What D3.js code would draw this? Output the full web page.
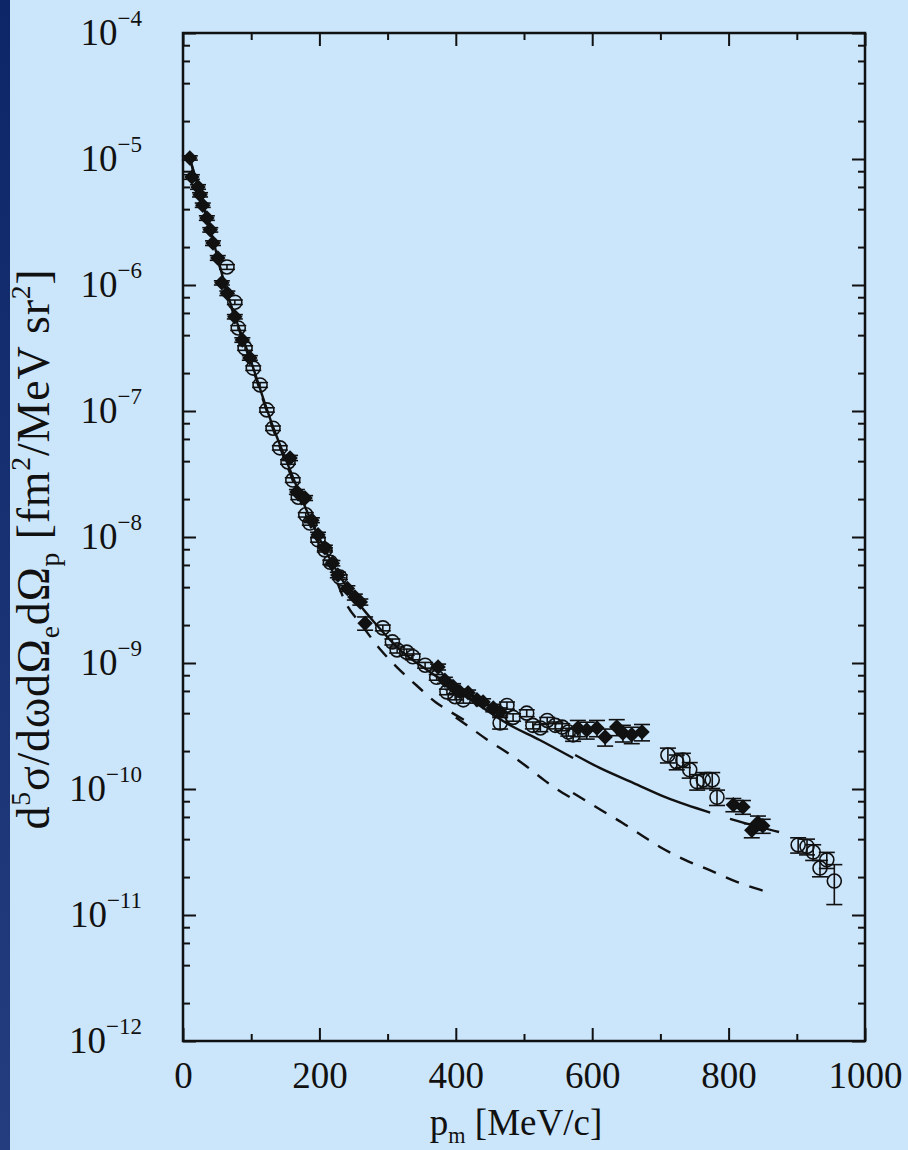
<!DOCTYPE html>
<html>
<head>
<meta charset="utf-8">
<script src="https://cdn.jsdelivr.net/npm/d3@7"></script>
<style>
  html, body { margin: 0; padding: 0; background: #cbe5fb; }
  svg { display: block; }
  text { font-family: "Liberation Serif", "Times New Roman", serif; fill: #111; }
</style>
</head>
<body>
<svg id="chart" width="908" height="1150"></svg>
<script>
// Missing-momentum distribution: data sets, calculations and axis ticks.
const xMajorTicks = [0, 200, 400, 600, 800, 1000];
const xMinorTicks = [100, 300, 500, 700, 900];
const yDecades = [1e-4, 1e-5, 1e-6, 1e-7, 1e-8, 1e-9, 1e-10, 1e-11, 1e-12];
const yDecadeExponents = ["−4", "−5", "−6", "−7", "−8", "−9", "−10", "−11", "−12"];
const yMinorMantissas = [2, 4, 6, 8];

// Filled diamonds: [p_m (MeV/c), cross section, error]
const diamondPts = [
  [10, 1.02e-5, 0.04e-5], [13, 7.2e-6, 0.3e-6], [22, 6.0e-6, 0.25e-6], [25, 5.2e-6, 0.2e-6],
  [29, 4.3e-6, 0.17e-6], [35, 3.4e-6, 0.14e-6], [40, 2.74e-6, 0.11e-6], [44, 2.15e-6, 0.09e-6],
  [51, 1.64e-6, 0.07e-6], [57, 1.04e-6, 0.04e-6], [65, 8.6e-7, 0.35e-7], [76, 5.6e-7, 0.22e-7],
  [87, 3.66e-7, 0.15e-7], [98, 2.64e-7, 0.11e-7], [157, 4.24e-8, 0.2e-8], [167, 2.28e-8, 0.1e-8],
  [179, 2.04e-8, 0.09e-8], [189, 1.36e-8, 0.06e-8], [198, 1.04e-8, 0.05e-8], [208, 8.2e-9, 0.4e-9],
  [219, 6.2e-9, 0.3e-9], [227, 5.0e-9, 0.25e-9], [241, 3.9e-9, 0.2e-9], [252, 3.34e-9, 0.18e-9],
  [260, 3.05e-9, 0.17e-9], [267, 2.07e-9, 0.25e-9], [374, 9.3e-10, 0.5e-10], [384, 7.3e-10, 0.4e-10],
  [396, 6.5e-10, 0.35e-10], [406, 5.9e-10, 0.3e-10], [418, 5.8e-10, 0.3e-10], [431, 5.1e-10, 0.3e-10],
  [440, 4.9e-10, 0.3e-10], [455, 4.4e-10, 0.3e-10], [465, 4.1e-10, 0.3e-10], [579, 3.05e-10, 0.45e-10],
  [592, 2.94e-10, 0.45e-10], [607, 3.05e-10, 0.45e-10], [619, 2.59e-10, 0.4e-10], [636, 3.1e-10, 0.45e-10],
  [645, 2.78e-10, 0.42e-10], [658, 2.69e-10, 0.4e-10], [673, 2.83e-10, 0.42e-10], [807, 7.5e-11, 0.9e-11],
  [821, 7.2e-11, 0.9e-11], [834, 4.7e-11, 0.6e-11], [843, 5.4e-11, 0.7e-11], [850, 5.1e-11, 0.65e-11]
];

// Open circles: [p_m (MeV/c), cross section, error]
const circlePts = [
  [64.5, 1.39e-6, 0.06e-6], [76, 7.3e-7, 0.3e-7], [81, 4.56e-7, 0.2e-7], [91, 3.16e-7, 0.13e-7],
  [103, 2.19e-7, 0.09e-7], [113, 1.61e-7, 0.07e-7], [123, 1.02e-7, 0.04e-7], [132, 7.3e-8, 0.3e-8],
  [142, 5.1e-8, 0.2e-8], [154, 3.94e-8, 0.16e-8], [161, 2.83e-8, 0.12e-8], [169, 2.07e-8, 0.09e-8],
  [180, 1.5e-8, 0.06e-8], [186, 1.29e-8, 0.05e-8], [198, 9.5e-9, 0.4e-9], [208, 7.9e-9, 0.3e-9],
  [216, 6.3e-9, 0.25e-9], [230, 4.8e-9, 0.2e-9], [293, 1.9e-9, 0.1e-9], [307, 1.47e-9, 0.08e-9],
  [314, 1.27e-9, 0.07e-9], [328, 1.22e-9, 0.07e-9], [337, 1.12e-9, 0.06e-9], [355, 9.6e-10, 0.5e-10],
  [372, 7.7e-10, 0.4e-10], [387, 5.9e-10, 0.3e-10], [399, 5.4e-10, 0.3e-10], [411, 5.1e-10, 0.3e-10],
  [465, 3.34e-10, 0.35e-10], [475, 4.6e-10, 0.3e-10], [484, 3.7e-10, 0.25e-10], [504, 4.0e-10, 0.25e-10],
  [513, 3.2e-10, 0.2e-10], [524, 3.05e-10, 0.2e-10], [534, 3.5e-10, 0.2e-10], [546, 3.2e-10, 0.2e-10],
  [556, 3.1e-10, 0.2e-10], [565, 2.83e-10, 0.2e-10], [572, 2.69e-10, 0.3e-10], [711, 1.86e-10, 0.25e-10],
  [724, 1.64e-10, 0.22e-10], [733, 1.7e-10, 0.22e-10], [743, 1.42e-10, 0.2e-10], [754, 1.14e-10, 0.16e-10],
  [763, 1.18e-10, 0.17e-10], [776, 1.18e-10, 0.17e-10], [783, 8.6e-11, 1.2e-11], [902, 3.6e-11, 0.5e-11],
  [915, 3.5e-11, 0.5e-11], [924, 3.16e-11, 0.45e-11], [934, 2.36e-11, 0.35e-11], [944, 2.74e-11, 0.4e-11],
  [955, 1.86e-11, 0.65e-11]
];

// Full calculation (solid), computed in three kinematic pieces
const solidA = [
  [10, 1.02e-5], [40, 2.74e-6], [65, 8.6e-7], [98, 2.64e-7], [132, 7.5e-8], [157, 3.4e-8],
  [186, 1.42e-8], [216, 6.6e-9], [245, 3.66e-9], [284, 2.0e-9], [318, 1.27e-9], [362, 8.5e-10],
  [406, 5.9e-10], [479, 3.22e-10], [523, 2.45e-10], [572, 1.76e-10]
];
const solidB = [[575, 1.86e-10], [611, 1.47e-10], [660, 1.12e-10], [710, 8.5e-11], [773, 6.5e-11]];
const solidC = [[802, 5.8e-11], [839, 5.1e-11], [874, 4.56e-11]];

// Reduced calculation (dashed), three pieces
const dashedA = [
  [10, 1.0e-5], [40, 2.7e-6], [65, 8.4e-7], [98, 2.55e-7], [132, 7.2e-8], [157, 3.2e-8],
  [186, 1.25e-8], [223, 4.8e-9], [238, 3.05e-9], [262, 2.0e-9], [290, 1.27e-9], [315, 9.1e-10],
  [343, 6.6e-10], [370, 4.9e-10], [392, 4.1e-10], [420, 3.35e-10]
];
const dashedB = [
  [400, 3.7e-10], [418, 3.16e-10], [449, 2.4e-10], [474, 1.97e-10], [501, 1.55e-10],
  [531, 1.16e-10], [562, 8.95e-11], [571, 8.4e-11]
];
const dashedC = [
  [572, 9.3e-11], [611, 6.9e-11], [644, 5.4e-11], [674, 4.24e-11], [702, 3.4e-11],
  [736, 2.74e-11], [768, 2.32e-11], [812, 1.83e-11], [847, 1.58e-11], [862, 1.5e-11]
];

const W = 908, H = 1150;
const plot = { left: 183, right: 865, top: 33, bottom: 1041 };
const bg = "#cbe5fb";
const tickFont = 37;

const svg = d3.select("#chart");

// background and dark edge band
const defs = svg.append("defs");
const grad = defs.append("linearGradient").attr("id", "edge").attr("x1", 0).attr("y1", 0).attr("x2", 0).attr("y2", 1);
grad.append("stop").attr("offset", 0).attr("stop-color", "#0c2668");
grad.append("stop").attr("offset", 1).attr("stop-color", "#233d7e");
svg.append("rect").attr("width", W).attr("height", H).attr("fill", bg);
svg.append("rect").attr("width", 10).attr("height", H).attr("fill", "url(#edge)");

const x = d3.scaleLinear().domain([0, 1000]).range([plot.left, plot.right]);
const y = d3.scaleLog().domain([1e-12, 1e-4]).range([plot.bottom, plot.top]);

const yMinor = [];
yDecades.slice(1).forEach(dec => yMinorMantissas.forEach(m => yMinor.push(m * dec)));

function styleAxis(g) {
  g.select(".domain").remove();
  g.selectAll(".tick line").attr("stroke", "#111").attr("stroke-width", 2);
}

// bottom axis with labels
svg.append("g").attr("transform", `translate(0,${plot.bottom})`)
  .call(d3.axisBottom(x).tickValues(xMajorTicks).tickSize(-13).tickPadding(21).tickFormat(d3.format("d")))
  .call(styleAxis)
  .call(g => g.selectAll("text").attr("font-size", tickFont).attr("font-family", "Liberation Serif").attr("fill", "#111"));
svg.append("g").attr("transform", `translate(0,${plot.bottom})`)
  .call(d3.axisBottom(x).tickValues(xMinorTicks).tickSize(-7).tickFormat(""))
  .call(styleAxis);
// top axis
svg.append("g").attr("transform", `translate(0,${plot.top})`)
  .call(d3.axisTop(x).tickValues(xMajorTicks).tickSize(-13).tickFormat(""))
  .call(styleAxis);
svg.append("g").attr("transform", `translate(0,${plot.top})`)
  .call(d3.axisTop(x).tickValues(xMinorTicks).tickSize(-7).tickFormat(""))
  .call(styleAxis);

// left axis with power-of-ten labels
svg.append("g").attr("transform", `translate(${plot.left},0)`)
  .call(d3.axisLeft(y).tickValues(yDecades).tickSize(-13).tickPadding(41).tickFormat(""))
  .call(styleAxis)
  .call(g => g.selectAll(".tick text").each(function (d) {
    const t = d3.select(this).attr("font-size", tickFont).attr("font-family", "Liberation Serif").attr("fill", "#111");
    t.text(null);
    t.append("tspan").text("10");
    t.append("tspan").attr("font-size", 23).attr("dy", -19).text(yDecadeExponents[yDecades.indexOf(d)]);
  }));
svg.append("g").attr("transform", `translate(${plot.left},0)`)
  .call(d3.axisLeft(y).tickValues(yMinor).tickSize(-7).tickFormat(""))
  .call(styleAxis);
// right axis
svg.append("g").attr("transform", `translate(${plot.right},0)`)
  .call(d3.axisRight(y).tickValues(yDecades).tickSize(-13).tickFormat(""))
  .call(styleAxis);
svg.append("g").attr("transform", `translate(${plot.right},0)`)
  .call(d3.axisRight(y).tickValues(yMinor).tickSize(-7).tickFormat(""))
  .call(styleAxis);

// frame
svg.append("rect")
  .attr("x", plot.left).attr("y", plot.top)
  .attr("width", plot.right - plot.left).attr("height", plot.bottom - plot.top)
  .attr("fill", "none").attr("stroke", "#111").attr("stroke-width", 2.5);

// text with super/subscripts
function richText(sel, parts, size) {
  let shift = 0;
  parts.forEach(p => {
    const target = p[1] === "sup" ? -0.42 * size : p[1] === "sub" ? 0.22 * size : 0;
    sel.append("tspan")
      .attr("dy", target - shift)
      .attr("font-size", p[1] ? size * 0.6 : size)
      .text(p[0]);
    shift = target;
  });
}

const xTitle = svg.append("text").attr("x", 516).attr("y", 1135).attr("text-anchor", "middle");
richText(xTitle, [["p"], ["m", "sub"], [" [MeV/c]"]], 37);

const yTitle = svg.append("text").attr("text-anchor", "middle")
  .attr("letter-spacing", 0.8)
  .attr("transform", "translate(49,549) rotate(-90)");
richText(yTitle, [["d"], ["5", "sup"], ["σ/dωdΩ"], ["e", "sub"], ["dΩ"], ["p", "sub"],
  [" [fm"], ["2", "sup"], ["/MeV sr"], ["2", "sup"], ["]"]], 46);

// calculation curves
const line = d3.line().x(d => x(d[0])).y(d => y(d[1])).curve(d3.curveMonotoneX);
const curves = svg.append("g").attr("fill", "none").attr("stroke", "#111").attr("stroke-width", 2.4);
[dashedA, dashedB, dashedC].forEach(seg =>
  curves.append("path").attr("d", line(seg)).attr("stroke-dasharray", "14,11"));
[solidA, solidB, solidC].forEach(seg =>
  curves.append("path").attr("d", line(seg)));

// error bars
function errorBars(pts) {
  const g = svg.append("g").attr("stroke", "#111").attr("stroke-width", 1.6);
  pts.forEach(d => {
    const cx = x(d[0]), y0 = y(d[1] - d[2]), y1 = y(d[1] + d[2]);
    g.append("line").attr("x1", cx).attr("x2", cx).attr("y1", y0).attr("y2", y1);
    g.append("line").attr("x1", cx - 8).attr("x2", cx + 8).attr("y1", y0).attr("y2", y0);
    g.append("line").attr("x1", cx - 8).attr("x2", cx + 8).attr("y1", y1).attr("y2", y1);
  });
}
errorBars(circlePts);
errorBars(diamondPts);

// open circles
svg.append("g").selectAll("circle").data(circlePts).join("circle")
  .attr("cx", d => x(d[0])).attr("cy", d => y(d[1])).attr("r", 7)
  .attr("fill", "none").attr("stroke", "#111").attr("stroke-width", 1.6);

// filled diamonds
const diamond = d3.symbol(d3.symbolSquare, 120);
svg.append("g").selectAll("path").data(diamondPts).join("path")
  .attr("d", diamond)
  .attr("transform", d => `translate(${x(d[0])},${y(d[1])}) rotate(45)`)
  .attr("fill", "#111");
</script>
</body>
</html>
